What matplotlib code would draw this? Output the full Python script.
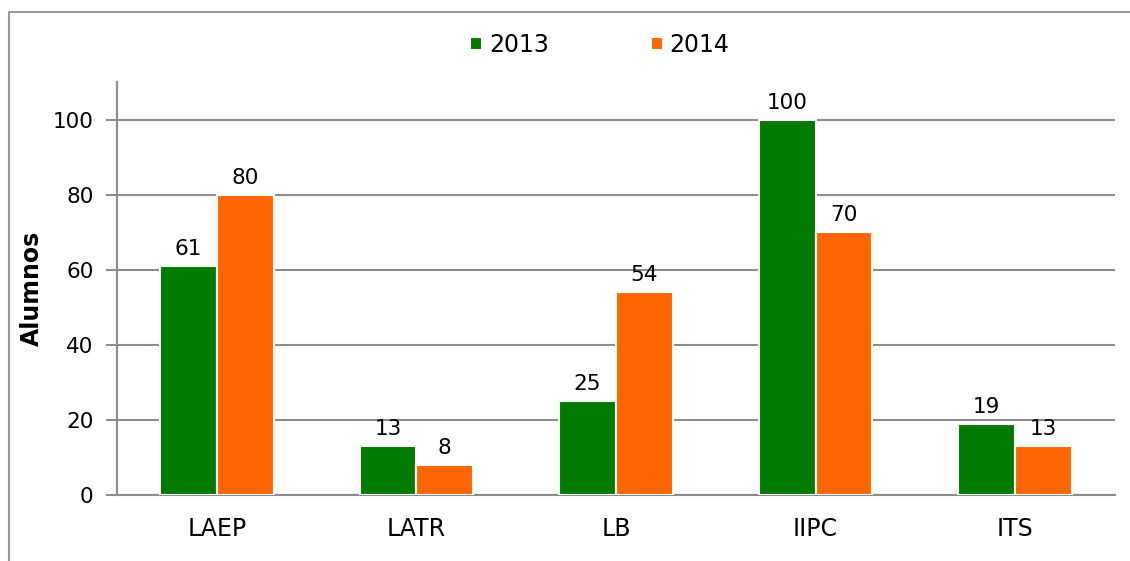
import matplotlib
matplotlib.use("Agg")
import matplotlib.pyplot as plt
import numpy as np
from matplotlib.lines import Line2D

categories = ["LAEP", "LATR", "LB", "IIPC", "ITS"]
series_names = ["2013", "2014"]
values_2013 = [61, 13, 25, 100, 19]
values_2014 = [80, 8, 54, 70, 13]
yticks = [0, 20, 40, 60, 80, 100]

green = "#007A00"
orange = "#FF6600"
grid_c = "#8C8C8C"

W, H = 1130, 561
fig = plt.figure(figsize=(W / 100, H / 100), dpi=100)
ax = fig.add_axes([117 / W, 1 - 495 / H, (1115 - 117) / W, (495 - 82) / H])

x = np.arange(len(categories))
bw = 0.285
b1 = ax.bar(x - bw / 2, values_2013, bw, color=green, edgecolor="white", linewidth=1.5,
            label=series_names[0], zorder=3)
b2 = ax.bar(x + bw / 2, values_2014, bw, color=orange, edgecolor="white", linewidth=1.5,
            label=series_names[1], zorder=3)

for bars, vals in ((b1, values_2013), (b2, values_2014)):
    for r, v in zip(bars, vals):
        ax.annotate(str(v), (r.get_x() + r.get_width() / 2, r.get_height()),
                    xytext=(0, 5), textcoords="offset points", ha="center", va="bottom",
                    fontsize=15.5, color="black")

ax.set_xlim(-0.5, len(categories) - 0.5)
ax.set_ylim(0, 110)
ax.set_yticks(yticks)
ax.set_xticks(x)
ax.set_xticklabels(categories)
ax.yaxis.grid(True, color=grid_c, linewidth=1.5, zorder=0)
ax.set_axisbelow(True)
for s in ("top", "right"):
    ax.spines[s].set_visible(False)
for s in ("left", "bottom"):
    ax.spines[s].set_color(grid_c)
    ax.spines[s].set_linewidth(1.5)
ax.tick_params(axis="y", length=8, width=1.5, color=grid_c, labelsize=15.5, pad=9)
ax.tick_params(axis="x", length=0, labelsize=17, pad=16)
ax.set_ylabel("Alumnos", fontsize=17, fontweight="bold", labelpad=6)

fig.legend(handles=[b1, b2], labels=series_names, loc="center",
           bbox_to_anchor=(600 / W, 1 - 45 / H), ncol=2, frameon=False,
           fontsize=17, handlelength=0.5, handleheight=0.5, handletextpad=0.3,
           columnspacing=4.3)

fig.add_artist(Line2D([9 / W, 9 / W, 1], [0, 1 - 12 / H, 1 - 12 / H],
                      transform=fig.transFigure, color="#999999", linewidth=1.5))

fig.savefig("out.png", dpi=100)
